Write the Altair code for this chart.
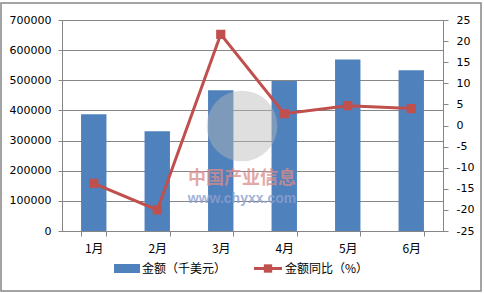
import altair as alt
import pandas as pd

months = ["1月", "2月", "3月", "4月", "5月", "6月"]
amount = [387000, 331000, 467000, 498000, 569000, 533000]
yoy = [-13.7, -20.0, 21.6, 2.8, 4.7, 4.0]
left_ticks = [0, 100000, 200000, 300000, 400000, 500000, 600000, 700000]
right_ticks = [-25, -20, -15, -10, -5, 0, 5, 10, 15, 20, 25]
legend_labels = ["金额（千美元）", "金额同比（%）"]
watermark = ["中国产业信息", "www.chyxx.com"]

BAR = "#4F81BD"
LINE = "#C0504D"
GRID = "#868686"
CJK = "Noto Sans CJK SC"
NUM = "DejaVu Sans"

df = pd.DataFrame({"month": months, "amount": amount, "yoy": yoy})
base = alt.Chart(df)

x_enc = alt.X(
    "month:N", sort=months,
    scale=alt.Scale(paddingInner=0.6, paddingOuter=0.3),
    axis=alt.Axis(title=None, labelAngle=0, tickBand="extent", grid=False,
                  domainColor=GRID, tickColor=GRID, tickSize=5,
                  labelFont=CJK, labelFontSize=12, labelColor="#000000",
                  labelPadding=7),
)

bars = base.mark_bar(color=BAR).encode(
    x=x_enc,
    y=alt.Y("amount:Q", scale=alt.Scale(domain=[0, 700000], nice=False),
            axis=alt.Axis(title=None, values=left_ticks, labelExpr="datum.value + ''",
                          grid=True, gridColor=GRID, gridWidth=1,
                          domainColor=GRID, tickColor=GRID, tickSize=4,
                          labelFont=NUM, labelFontSize=11, labelColor="#000000",
                          labelPadding=7)),
)

line_y = alt.Y("yoy:Q", scale=alt.Scale(domain=[-25, 25], nice=False),
               axis=alt.Axis(title=None, orient="right", values=right_ticks,
                             labelExpr="datum.value + ''",
                             grid=False, domainColor=GRID, tickColor=GRID, tickSize=5,
                             labelFont=NUM, labelFontSize=11, labelColor="#000000",
                             labelPadding=8))
line = base.mark_line(color=LINE, strokeWidth=3).encode(x=x_enc, y=line_y)
pts = base.mark_square(color=LINE, size=85, opacity=1).encode(x=x_enc, y=line_y)

wm_circle = alt.Chart(pd.DataFrame({"t": watermark[:1]})).mark_circle(
    color="#B8B8B8", opacity=0.45, size=5000
).encode(x=alt.value(180), y=alt.value(106))
wm_cn = alt.Chart(pd.DataFrame({"t": watermark[:1]})).mark_text(
    font=CJK, fontSize=18, fontWeight="bold", color="#D98C8A", opacity=0.75
).encode(x=alt.value(180), y=alt.value(159), text="t:N")
wm_url = alt.Chart(pd.DataFrame({"t": watermark[1:]})).mark_text(
    font="Liberation Sans", fontSize=14, fontWeight="bold", color="#8DA0CF", opacity=0.8
).encode(x=alt.value(180), y=alt.value(179), text="t:N")

leg1_sym = alt.Chart(pd.DataFrame({"t": legend_labels[:1]})).mark_rect(color=BAR).encode(
    x=alt.value(52), x2=alt.value(78), y=alt.value(244), y2=alt.value(253))
leg1_txt = alt.Chart(pd.DataFrame({"t": legend_labels[:1]})).mark_text(
    font=CJK, fontSize=12, align="left", baseline="middle", color="#000000"
).encode(x=alt.value(80), y=alt.value(248.5), text="t:N")
leg2_line = alt.Chart(pd.DataFrame({"t": legend_labels[1:]})).mark_rule(color=LINE, strokeWidth=3).encode(
    x=alt.value(192), x2=alt.value(220), y=alt.value(248.5))
leg2_sym = alt.Chart(pd.DataFrame({"t": legend_labels[1:]})).mark_square(color=LINE, size=70, opacity=1).encode(
    x=alt.value(206), y=alt.value(248.5))
leg2_txt = alt.Chart(pd.DataFrame({"t": legend_labels[1:]})).mark_text(
    font=CJK, fontSize=12, align="left", baseline="middle", color="#000000"
).encode(x=alt.value(223), y=alt.value(248.5), text="t:N")

border = alt.Chart(pd.DataFrame({"t": legend_labels[:1]})).mark_rect(
    fillOpacity=0, stroke=GRID, strokeWidth=1.5
).encode(x=alt.value(-61), x2=alt.value(419), y=alt.value(-17), y2=alt.value(271))

left = alt.layer(bars, wm_circle, wm_cn, wm_url)
right = alt.layer(line, pts)

chart = alt.layer(
    left, right, border, leg1_sym, leg1_txt, leg2_line, leg2_sym, leg2_txt
).resolve_scale(y="independent").properties(
    width=381, height=211,
    autosize=alt.AutoSizeParams(type="none"),
    padding={"left": 62, "top": 20, "right": 41, "bottom": 62},
).configure_view(stroke=None).configure(background="white")

chart.save("out.html", embed_options={"renderer": "svg", "actions": False})
